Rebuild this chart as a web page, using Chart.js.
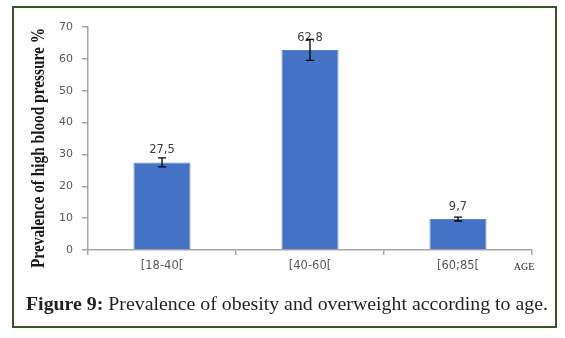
<!DOCTYPE html>
<html>
<head>
<meta charset="utf-8">
<script src="https://cdn.jsdelivr.net/npm/chart.js@4.4.0/dist/chart.umd.min.js"></script>
<style>
  html, body { margin: 0; padding: 0; background: #fff; }
  #wrap { position: relative; width: 565px; height: 338px; overflow: hidden; }
  #c { position: absolute; left: 0; top: 0; }
  #frame { position: absolute; left: 12px; top: 6px; width: 541px; height: 318px;
           border: 2px solid #375623; pointer-events: none; }
  #caption { position: absolute; left: 26px; top: 294px; white-space: nowrap;
             font-family: "Liberation Serif", "DejaVu Serif", serif; font-size: 18px;
             color: #231f20; transform-origin: 0 0; }
  #caption b { font-weight: bold; }
</style>
</head>
<body>
<div id="wrap">
  <canvas id="c" width="565" height="338"></canvas>
  <div id="frame"></div>
  <div id="caption"><b>Figure 9:</b> Prevalence of obesity and overweight according to age.</div>
</div>
<script>
const categories = ["[18-40[", "[40-60[", "[60;85["];
const values = [27.5, 62.8, 9.7];
const errors = [1.4, 3.3, 0.6];
const valueLabels = ["27,5", "62,8", "9,7"];
const yTicks = [0, 10, 20, 30, 40, 50, 60, 70];
const yTitle = "Prevalence of high blood pressure %";
const xTitle = "AGE";

const extras = {
  id: 'extras',
  afterDatasetsDraw(chart) {
    const ctx = chart.ctx;
    const meta = chart.getDatasetMeta(0);
    const y = chart.scales.y;
    ctx.save();
    // error bars
    ctx.strokeStyle = '#000';
    ctx.lineWidth = 1.3;
    meta.data.forEach((bar, i) => {
      const x = bar.x;
      const yHi = y.getPixelForValue(values[i] + errors[i]);
      const yLo = y.getPixelForValue(values[i] - errors[i]);
      ctx.beginPath();
      ctx.moveTo(x, yHi); ctx.lineTo(x, yLo);
      ctx.moveTo(x - 4, yHi); ctx.lineTo(x + 4, yHi);
      ctx.moveTo(x - 4, yLo); ctx.lineTo(x + 4, yLo);
      ctx.stroke();
    });
    // value labels
    ctx.fillStyle = '#404040';
    ctx.font = '11.5px "DejaVu Sans", Verdana, sans-serif';
    ctx.textAlign = 'center';
    ctx.textBaseline = 'middle';
    meta.data.forEach((bar, i) => {
      ctx.fillText(valueLabels[i], bar.x, bar.y - 12);
    });
    // y title
    ctx.save();
    const ca = chart.chartArea;
    ctx.translate(39, 148);
    ctx.rotate(-Math.PI / 2);
    ctx.font = 'bold 19px "Liberation Serif", "Times New Roman", serif';
    const w = ctx.measureText(yTitle).width;
    ctx.scale(240 / w, 1);
    ctx.fillStyle = '#1a1a1a';
    ctx.textAlign = 'center';
    ctx.textBaseline = 'middle';
    ctx.fillText(yTitle, 0, 0);
    ctx.restore();
    // x title
    ctx.font = '10px "Liberation Serif", "Times New Roman", serif';
    ctx.fillStyle = '#262626';
    ctx.textAlign = 'center';
    ctx.textBaseline = 'middle';
    ctx.fillText(xTitle, ca.right - 8, ca.bottom + 17);
    ctx.restore();
  }
};

new Chart(document.getElementById('c'), {
  type: 'bar',
  data: {
    labels: categories,
    datasets: [{
      data: values,
      backgroundColor: '#4472C4',
      borderColor: '#5b84cc',
      borderWidth: 1,
      barPercentage: 0.77,
      categoryPercentage: 0.5
    }]
  },
  options: {
    responsive: false,
    devicePixelRatio: 1,
    animation: false,
    layout: { padding: { left: 0, top: 27, right: 33, bottom: 58 } },
    plugins: { legend: { display: false }, tooltip: { enabled: false } },
    scales: {
      x: {
        afterFit(s) { s.height = 30; },
        grid: { display: true, drawOnChartArea: false, color: '#a6a6a6', tickLength: 5, lineWidth: 1.5 },
        border: { color: '#a6a6a6', width: 1.5 },
        ticks: { color: '#595959', font: { family: '"DejaVu Sans", Verdana, sans-serif', size: 11.5 }, padding: 4, maxRotation: 0 }
      },
      y: {
        min: 0, max: 70,
        afterFit(s) { s.width = 88; },
        afterBuildTicks(s) { s.ticks = yTicks.map(v => ({ value: v })); },
        grid: { display: true, drawOnChartArea: false, color: '#a6a6a6', tickLength: 6, lineWidth: 1.5 },
        border: { color: '#a6a6a6', width: 1.5 },
        ticks: { color: '#595959', font: { family: '"DejaVu Sans", Verdana, sans-serif', size: 11 }, padding: 9 }
      }
    }
  },
  plugins: [extras]
});

// fit caption width to the reference line length
const cap = document.getElementById('caption');
const cw = cap.getBoundingClientRect().width;
cap.style.transform = 'scaleX(' + (522 / cw) + ')';
</script>
</body>
</html>
